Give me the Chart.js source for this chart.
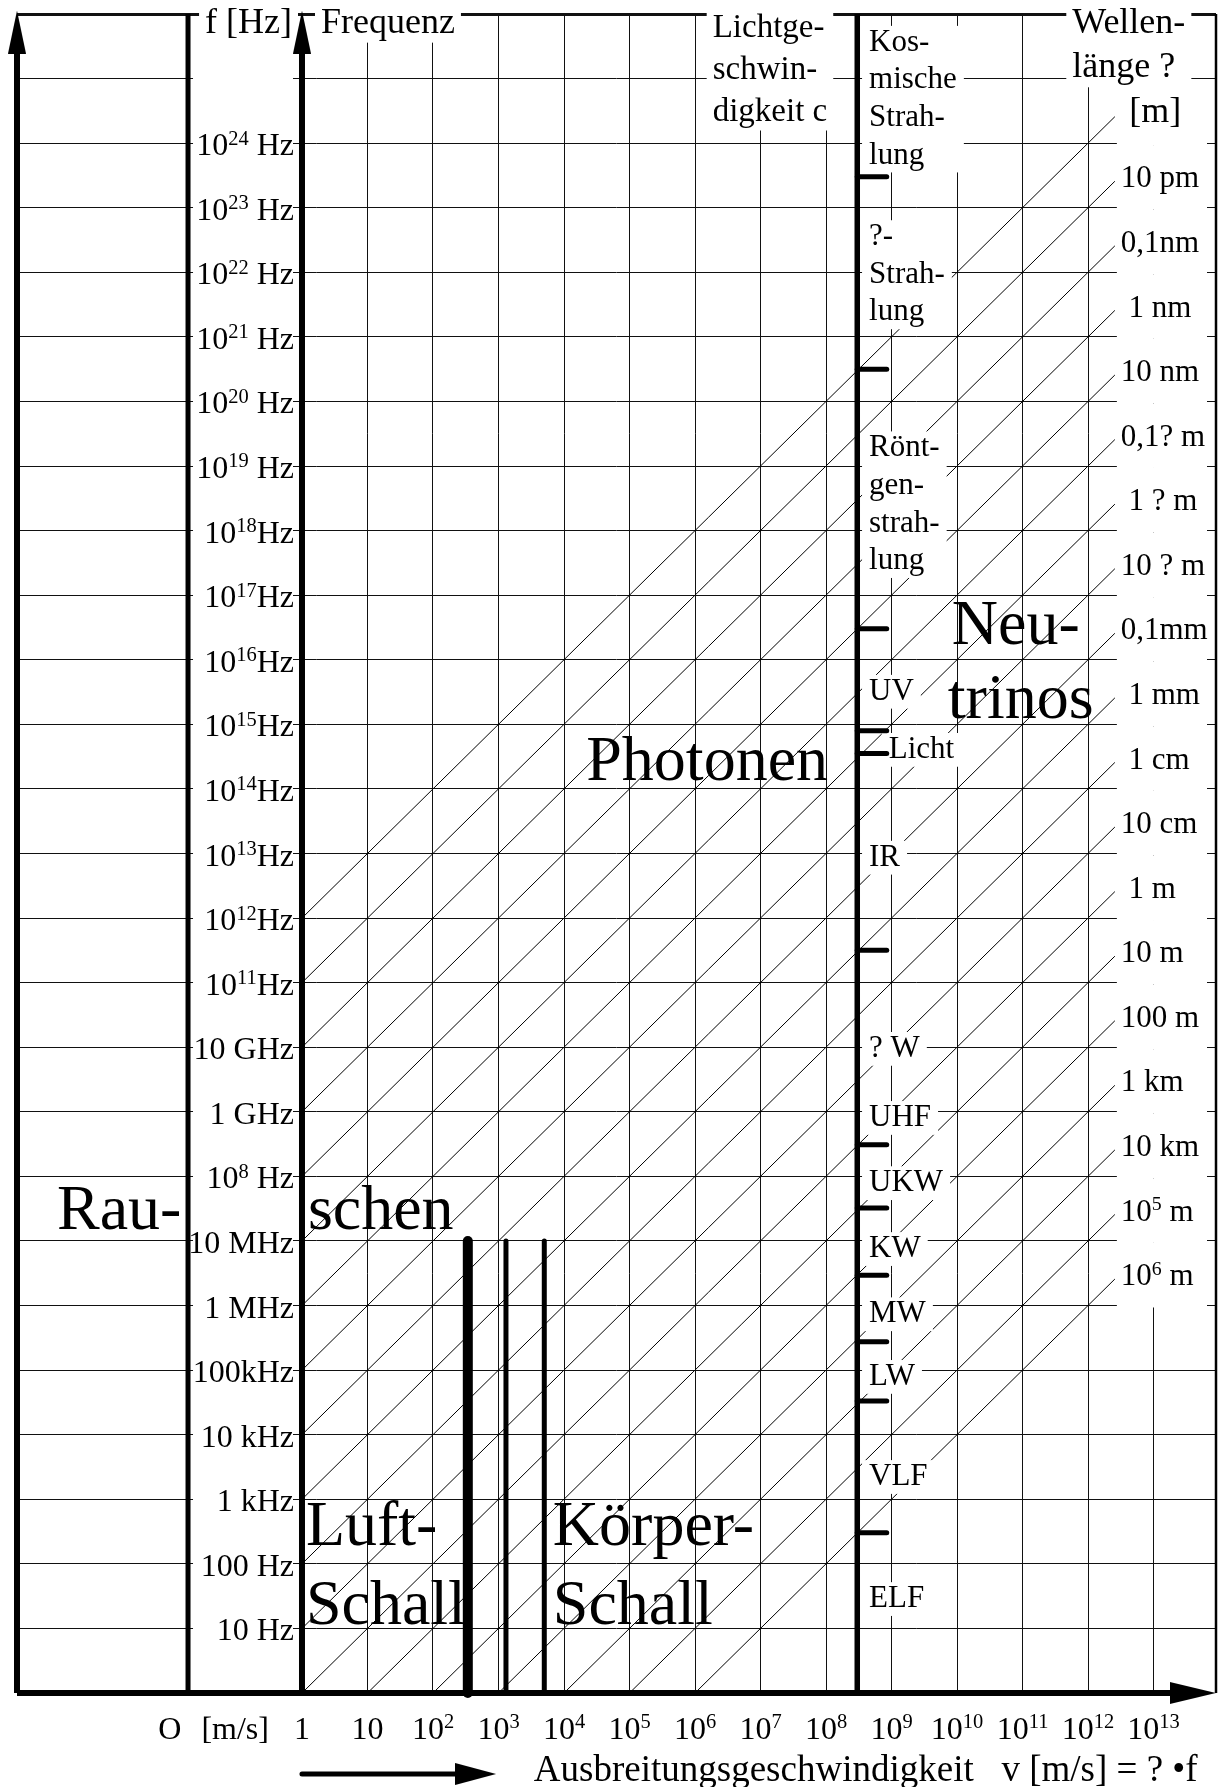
<!DOCTYPE html>
<html>
<head>
<meta charset="utf-8">
<title>Frequenz / Ausbreitungsgeschwindigkeit</title>
<script src="https://cdn.jsdelivr.net/npm/chart.js@4/dist/chart.umd.min.js"></script>
<style>
  html, body { margin: 0; padding: 0; background: #fff; }
  #wrap { width: 1221px; height: 1787px; }
</style>
</head>
<body>
<div id="wrap"><canvas id="chart"></canvas></div>
<script>
// both axes are in decades: x = log10 v [m/s], y = log10 f [Hz]
// "^" in a label marks the exponent that is set as superscript

// frequency ticks
const freqExp = [1, 2, 3, 4, 5, 6, 7, 8, 9, 10, 11, 12, 13, 14, 15, 16, 17, 18, 19, 20, 21, 22, 23, 24];
const freqLabels = ['10 Hz', '100 Hz', '1 kHz', '10 kHz', '100kHz', '1 MHz', '10 MHz', '10^8 Hz',
  '1 GHz', '10 GHz', '10^11Hz', '10^12Hz', '10^13Hz', '10^14Hz', '10^15Hz', '10^16Hz', '10^17Hz', '10^18Hz',
  '10^19 Hz', '10^20 Hz', '10^21 Hz', '10^22 Hz', '10^23 Hz', '10^24 Hz'];

// speed ticks, the first two only carry the "O [m/s]" text under the v = 0 column
const speedExp = [-2.02, -1.02, 0, 1, 2, 3, 4, 5, 6, 7, 8, 9, 10, 11, 12, 13];
const speedLabels = ['O', '[m/s]', '1', '10', '10^2', '10^3', '10^4', '10^5', '10^6', '10^7', '10^8',
  '10^9', '10^10', '10^11', '10^12', '10^13'];

// sound speeds [m/s]: air, water, solids - drawn up to 10 MHz
const soundSpeeds = [340, 1300, 5000];
const soundTopExp = 7;

// speed of light [m/s]
const lightSpeed = 3e8;

// lines of constant wavelength, lambda = 10^k m
const waveExp = [-12, -11, -10, -9, -8, -7, -6, -5, -4, -3, -2, -1, 0, 1, 2, 3, 4, 5, 6];
const waveLabels = ['', '10 pm', '0,1nm', ' 1 nm', '10 nm', '0,1? m', ' 1 ? m', '10 ? m', '0,1mm',
  ' 1 mm', ' 1 cm', '10 cm', ' 1 m', '10 m', '100 m', '1 km', '10 km', '10^5 m', '10^6 m'];

// band limits marked on the c line (log10 f)
const bandEdges = [23.48, 20.5, 16.48, 14.9, 14.55, 11.5, 8.49, 7.51, 6.47, 5.44, 4.52, 2.48];

// ---- layout ----
const X_MIN = -4.351, X_MAX = 13.954, Y_MAX = 26;
const ZERO_COL = -1.74;     // the v = 0 column
const DIAG_END = 12.41;     // where the wavelength lines stop
const FONT = "'Liberation Serif', 'Times New Roman', serif";
const font = (s) => s + 'px ' + FONT;

const headNotes = [
  { lines: ['f [Hz]'], u: -1.48, f: 25.71, size: 36, lh: 42 },
  { lines: ['Frequenz'], u: 0.29, f: 25.71, size: 36, lh: 42 },
  { lines: ['Lichtge-', 'schwin-', 'digkeit c'], u: 6.27, f: 25.64, size: 33, lh: 42 },
  { lines: ['Wellen-', 'länge ?'], u: 11.76, f: 25.70, size: 36, lh: 44 },
  { lines: ['[m]'], u: 12.63, f: 24.33, size: 36, lh: 42 }
];
const bandNotes = [
  { lines: ['Kos-', 'mische', 'Strah-', 'lung'], f: 25.43 },
  { lines: ['?-', 'Strah-', 'lung'], f: 22.42 },
  { lines: ['Rönt-', 'gen-', 'strah-', 'lung'], f: 19.15 },
  { lines: ['UV'], f: 15.38 },
  { lines: ['Licht'], f: 14.48, du: 0.3 },
  { lines: ['IR'], f: 12.81 },
  { lines: ['? W'], f: 9.85 },
  { lines: ['UHF'], f: 8.78 },
  { lines: ['UKW'], f: 7.77 },
  { lines: ['KW'], f: 6.75 },
  { lines: ['MW'], f: 5.74 },
  { lines: ['LW'], f: 4.77 },
  { lines: ['VLF'], f: 3.22 },
  { lines: ['ELF'], f: 1.33 }
];
const bigNotes = [
  { text: 'Rau-', u: -3.74, f: 7.18 },
  { text: 'schen', u: 0.09, f: 7.18 },
  { text: 'Luft-', u: 0.06, f: 2.29 },
  { text: 'Schall', u: 0.06, f: 1.07 },
  { text: 'Körper-', u: 3.83, f: 2.29 },
  { text: 'Schall', u: 3.83, f: 1.07 },
  { text: 'Photonen', u: 4.34, f: 14.14 },
  { text: 'Neu-', u: 9.92, f: 16.24 },
  { text: 'trinos', u: 9.86, f: 15.10 }
];
const axisTitle = { text: 'Ausbreitungsgeschwindigkeit   v [m/s] = ? •f', u: 3.54, f: -1.36 };

// arrow heads as little canvases (used as point styles)
function head(w, h, dir) {
  const c = document.createElement('canvas');
  c.width = w; c.height = h;
  const g = c.getContext('2d');
  g.fillStyle = '#000';
  g.beginPath();
  if (dir === 'up') { g.moveTo(w / 2, 0); g.lineTo(w, h); g.lineTo(0, h); }
  else { g.moveTo(w, h / 2); g.lineTo(0, 0); g.lineTo(0, h); }
  g.closePath();
  g.fill();
  return c;
}
const upHead = head(18, 43, 'up');
const rightHead = head(46, 22, 'right');
const smallRightHead = head(41, 22, 'right');

const pts = (arr) => arr.map(([x, y]) => ({ x, y }));
const thin = (arr) => ({ data: pts(arr), showLine: true, borderColor: '#000', borderWidth: 1,
  pointRadius: 0, order: 2 });
const thick = (arr, w, extra) => Object.assign({ data: pts(arr), showLine: true, borderColor: '#000',
  borderWidth: w, pointRadius: 0, clip: false, order: 1, thick: true }, extra || {});
const arrow = (arr, img) => ({ data: pts(arr), showLine: false, pointStyle: img, pointRadius: 100,
  clip: false, order: 0, thick: true });

const datasets = [];
// wavelength lines: log f = log v - k
waveExp.forEach((k) => {
  datasets.push(thin([[Math.max(0, k), Math.max(0, -k)], [DIAG_END, DIAG_END - k]]));
});
// frame and axes
datasets.push(thick([[X_MIN, 0], [X_MIN, 25.5]], 6));
datasets.push(thick([[ZERO_COL, 0], [ZERO_COL, Y_MAX]], 5));
datasets.push(thick([[0, 0], [0, 25.5]], 6));
datasets.push(thick([[X_MIN, 0], [13.3, 0]], 6));
datasets.push(thick([[X_MAX, 0], [X_MAX, Y_MAX]], 2.5));
// sound
soundSpeeds.forEach((v, i) => {
  const u = Math.log10(v);
  datasets.push(thick([[u, 0], [u, soundTopExp]], i === 0 ? 10 : 5, { borderCapStyle: 'round' }));
});
// light
const cExp = Math.log10(lightSpeed);
datasets.push(thick([[cExp, 0], [cExp, Y_MAX]], 5.5));
bandEdges.forEach((e) => datasets.push(thick([[cExp, e], [cExp + 0.45, e]], 5, { borderCapStyle: 'round' })));
// arrow heads
datasets.push(arrow([[X_MIN, 25.72], [0, 25.72]], upHead));
datasets.push(arrow([[13.6, 0]], rightHead));
// arrow under the speed axis
datasets.push(thick([[0, -1.254], [2.36, -1.254]], 5, { borderCapStyle: 'round' }));
datasets.push(arrow([[2.65, -1.254]], smallRightHead));

// ---- text helpers ----
function richParts(str) {
  const m = str.match(/^(.*?)\^(\d+)(.*)$/);
  return m ? [[m[1], false], [m[2], true], [m[3], false]] : [[str, false]];
}
function drawRich(ctx, str, x, y, size, align) {
  const parts = richParts(str);
  let w = 0;
  parts.forEach(([t, sup]) => { ctx.font = font(sup ? size * 0.64 : size); w += ctx.measureText(t).width; });
  let cx = align === 'right' ? x - w : align === 'center' ? x - w / 2 : x;
  parts.forEach(([t, sup]) => {
    ctx.font = font(sup ? size * 0.64 : size);
    ctx.fillText(t, cx, sup ? y - size * 0.33 : y);
    cx += ctx.measureText(t).width;
  });
}
function textBox(ctx, x, y0, lines, size, lh, padX, padY) {
  ctx.font = font(size);
  const w = Math.max(...lines.map((t) => ctx.measureText(t).width));
  ctx.fillRect(x - padX, y0 - size * 0.74 - padY, w + 2 * padX,
    (lines.length - 1) * lh + size * 0.96 + 2 * padY);
}
function drawLines(ctx, x, y0, lines, size, lh) {
  ctx.font = font(size);
  lines.forEach((t, i) => ctx.fillText(t, x, y0 + i * lh));
}

// white boxes behind the small labels go over the thin lines only
let boxesDone = false;
const labelPlugin = {
  id: 'labels',
  beforeDraw(chart) {
    const ctx = chart.ctx;
    ctx.save();
    ctx.fillStyle = '#fff';
    ctx.fillRect(0, 0, chart.width, chart.height);
    ctx.restore();
    boxesDone = false;
  },
  beforeDatasetDraw(chart, args) {
    if (boxesDone || !chart.data.datasets[args.index].thick) return;
    boxesDone = true;
    const { ctx, scales: { x, y } } = chart;
    ctx.save();
    ctx.fillStyle = '#fff';
    // column of the frequency labels
    ctx.fillRect(x.getPixelForValue(ZERO_COL) + 5, y.getPixelForValue(Y_MAX) + 2,
      x.getPixelForValue(0) - x.getPixelForValue(ZERO_COL) - 14,
      y.getPixelForValue(0) - y.getPixelForValue(Y_MAX) - 6);
    headNotes.forEach((n) => textBox(ctx, x.getPixelForValue(n.u), y.getPixelForValue(n.f), n.lines, n.size, n.lh, 6, 2));
    bandNotes.forEach((n) => textBox(ctx, x.getPixelForValue(cExp + 0.18 + (n.du || 0)), y.getPixelForValue(n.f),
      n.lines, 31, 37.6, 7, 2));
    const half = (y.getPixelForValue(0) - y.getPixelForValue(1)) / 2;
    const l = x.getPixelForValue(DIAG_END) + 2;
    waveExp.forEach((k) => {
      const m = y.getPixelForValue(DIAG_END - k + 0.06);
      ctx.fillRect(l, m - half, 1207 - l, 2 * half);
    });
    ctx.restore();
  },
  afterDatasetsDraw(chart) {
    const { ctx, scales: { x, y } } = chart;
    ctx.save();
    ctx.fillStyle = '#000';
    ctx.textBaseline = 'alphabetic';
    ctx.textAlign = 'left';
    // tick labels, placed by the scales
    const yRight = x.getPixelForValue(0) - 8;
    freqExp.forEach((e, i) => drawRich(ctx, freqLabels[i], yRight, y.getPixelForValue(e) + 12, 32, 'right'));
    const xBase = y.getPixelForValue(0) + 46;
    speedExp.forEach((e, i) => drawRich(ctx, speedLabels[i], x.getPixelForValue(e), xBase, 32, 'center'));
    headNotes.forEach((n) => drawLines(ctx, x.getPixelForValue(n.u), y.getPixelForValue(n.f), n.lines, n.size, n.lh));
    bandNotes.forEach((n) => drawLines(ctx, x.getPixelForValue(cExp + 0.18 + (n.du || 0)), y.getPixelForValue(n.f),
      n.lines, 31, 37.6));
    bigNotes.forEach((n) => drawLines(ctx, x.getPixelForValue(n.u), y.getPixelForValue(n.f), [n.text], 64, 0));
    drawLines(ctx, x.getPixelForValue(axisTitle.u), y.getPixelForValue(axisTitle.f), [axisTitle.text], 37, 0);
    waveExp.forEach((k, i) => {
      drawRich(ctx, waveLabels[i], x.getPixelForValue(DIAG_END + 0.09), y.getPixelForValue(DIAG_END - k + 0.06) + 10, 31, 'left');
    });
    ctx.restore();
  }
};

Chart.defaults.font.family = FONT;
Chart.defaults.color = '#000';

new Chart(document.getElementById('chart'), {
  type: 'scatter',
  data: { datasets },
  options: {
    responsive: true,
    maintainAspectRatio: false,
    animation: false,
    events: [],
    layout: { autoPadding: false, padding: { left: 17, top: 14, right: 5, bottom: 94 } },
    plugins: { legend: { display: false }, tooltip: { enabled: false } },
    scales: {
      x: {
        type: 'linear',
        position: { y: 0 },
        min: X_MIN,
        max: X_MAX,
        afterBuildTicks: (scale) => { scale.ticks = speedExp.map((v) => ({ value: v })); },
        ticks: { display: false },
        grid: {
          drawTicks: false,
          lineWidth: 1,
          color: (c) => (c.tick && Number.isInteger(c.tick.value) && c.tick.value >= 1 ? '#111' : 'rgba(0,0,0,0)')
        },
        border: { display: false }
      },
      y: {
        type: 'linear',
        position: { x: 0 },
        min: 0,
        max: Y_MAX,
        afterBuildTicks: (scale) => {
          scale.ticks = [0].concat(freqExp, [25, 26]).map((v) => ({ value: v }));
        },
        ticks: { display: false },
        grid: {
          drawTicks: false,
          lineWidth: (c) => (c.tick && c.tick.value === Y_MAX ? 3 : 1),
          color: (c) => (c.tick && c.tick.value === 0 ? 'rgba(0,0,0,0)' : '#111')
        },
        border: { display: false }
      }
    }
  },
  plugins: [labelPlugin]
});
</script>
</body>
</html>
